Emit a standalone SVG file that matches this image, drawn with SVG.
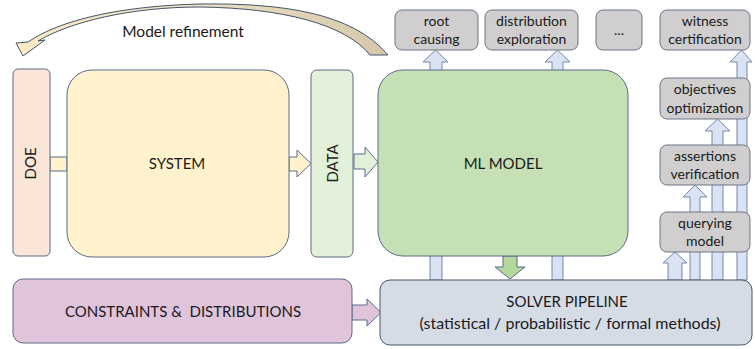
<svg xmlns="http://www.w3.org/2000/svg" width="755" height="349" viewBox="0 0 755 349">
<defs>
<style>
text{font-family:Lato,"Liberation Sans",sans-serif;fill:#1a1a1a;text-anchor:middle;}
.t15{font-size:15px;}
.t14{font-size:14px;}
.box{stroke:#5b6b88;stroke-width:1;}
.gray{fill:#d0cece;stroke:#6b7585;stroke-width:1;}
.blue{fill:#dae3f3;stroke:#7688a6;stroke-width:1;}
</style>
<linearGradient id="curveGrad" x1="0" y1="0" x2="1" y2="0">
<stop offset="0" stop-color="#fdebc6"/>
<stop offset="0.5" stop-color="#ece0c4"/>
<stop offset="1" stop-color="#d5c8aa"/>
</linearGradient>
</defs>
<rect width="755" height="349" fill="#ffffff"/>

<g id="connectors">
<!-- model refinement curved arrow -->
<path d="M28,42 C60,20 120,6 200,4 C280,3 352,12 388,55 L370,55 C345,24 282,8 200,7 C130,7 70,22 38,41 L45,40 L23,56 L16,43 Z" fill="url(#curveGrad)" stroke="#44546a" stroke-width="1"/>
<!-- DOE -> SYSTEM -->
<rect x="50" y="157" width="17" height="14" fill="#fff2cc" stroke="#5b6b88"/>
<!-- SYSTEM -> DATA -->
<path d="M289,157 L297,157 L297,150 L311,163.5 L297,177 L297,171 L289,171 Z" fill="#fff2cc" stroke="#5b6b88"/>
<!-- DATA -> ML -->
<path d="M354,154 L365,154 L365,147 L378,162 L365,177 L365,169 L354,169 Z" fill="#e2f0d9" stroke="#5b6b88"/>
<!-- solver -> root causing -->
<path d="M430,280 L430,62 L423,62 L435.5,50 L448,62 L442,62 L442,280 Z" class="blue"/>
<!-- solver -> distribution exploration -->
<path d="M552,280 L552,62 L545,62 L557.5,50 L570,62 L563,62 L563,280 Z" class="blue"/>
<!-- solver -> witness certification -->
<path d="M737,280 L737,62 L730,62 L741.5,50 L752,62 L747,62 L747,280 Z" class="blue"/>
<!-- solver -> objectives optimization -->
<path d="M712,280 L712,131 L705,131 L717.5,119 L730,131 L723,131 L723,280 Z" class="blue"/>
<!-- solver -> assertions verification -->
<path d="M690,280 L690,197 L683,197 L695,185 L707,197 L700,197 L700,280 Z" class="blue"/>
<!-- solver -> querying model -->
<path d="M668,280 L668,263 L663,263 L675,252 L687,263 L682,263 L682,280 Z" class="blue"/>
<!-- ML -> solver -->
<path d="M503,256 L503,267 L495,267 L510,279 L525,267 L517,267 L517,256 Z" fill="#b4d79c" stroke="#5b6b88"/>
<!-- constraints -> solver -->
<path d="M352,305 L367,305 L367,299 L381,312.5 L367,326 L367,320 L352,320 Z" fill="#dfc4dc" stroke="#5b6b88"/>
</g>

<text class="t15" x="183" y="37" style="font-size:15.5px">Model refinement</text>

<g id="doe">
<rect x="13" y="69" width="37" height="187" rx="5" fill="#fbe5d6" class="box"/>
<text class="t15" transform="translate(36,163.5) rotate(-90)">DOE</text>
</g>
<g id="system">
<rect x="67" y="70" width="222" height="187" rx="25" fill="#fff2cc" class="box"/>
<text class="t15" x="177" y="169">SYSTEM</text>
</g>
<g id="data">
<rect x="311" y="70" width="42" height="187" rx="6" fill="#e2f0d9" class="box"/>
<text class="t15" transform="translate(337.5,163.5) rotate(-90)">DATA</text>
</g>
<g id="ml-model">
<rect x="378" y="70" width="250" height="186" rx="25" fill="#c5e0b4" class="box"/>
<text class="t15" x="503" y="169">ML MODEL</text>
</g>
<g id="constraints">
<rect x="13" y="279" width="339" height="64" rx="10" fill="#dfc4dc" class="box"/>
<text class="t15" x="183" y="317" style="white-space:pre">CONSTRAINTS &amp;  DISTRIBUTIONS</text>
</g>
<g id="solver">
<rect x="380" y="280" width="372" height="65" rx="10" fill="#d6dce5" stroke="#44546a" stroke-width="1"/>
<text class="t15" x="567" y="307">SOLVER PIPELINE</text>
<text class="t15" x="570" y="329" style="font-size:16px">(statistical / probabilistic / formal methods)</text>
</g>
<g id="root-causing">
<rect x="395" y="10" width="83" height="40" rx="7" class="gray"/>
<text class="t14" x="436.5" y="26">root</text>
<text class="t14" x="436.5" y="44">causing</text>
</g>
<g id="distribution-exploration">
<rect x="485" y="10" width="93" height="40" rx="7" class="gray"/>
<text class="t14" x="531.5" y="26">distribution</text>
<text class="t14" x="531.5" y="44">exploration</text>
</g>
<g id="ellipsis">
<rect x="596" y="10" width="46" height="40" rx="7" class="gray"/>
<text class="t14" x="619" y="35">...</text>
</g>
<g id="witness-certification">
<rect x="660" y="10" width="90" height="40" rx="7" class="gray"/>
<text class="t14" x="705" y="26">witness</text>
<text class="t14" x="705" y="44">certification</text>
</g>
<g id="objectives-optimization">
<rect x="660" y="78" width="90" height="41" rx="7" class="gray"/>
<text class="t14" x="705" y="94">objectives</text>
<text class="t14" x="705" y="113">optimization</text>
</g>
<g id="assertions-verification">
<rect x="660" y="145" width="90" height="40" rx="7" class="gray"/>
<text class="t14" x="705" y="161">assertions</text>
<text class="t14" x="705" y="179">verification</text>
</g>
<g id="querying-model">
<rect x="660" y="212" width="90" height="40" rx="7" class="gray"/>
<text class="t14" x="705" y="228">querying</text>
<text class="t14" x="705" y="246">model</text>
</g>
</svg>
